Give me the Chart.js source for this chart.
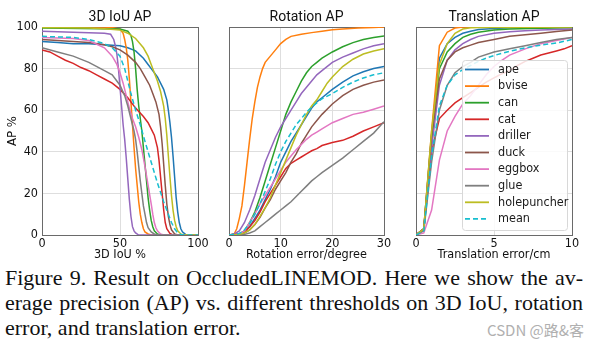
<!DOCTYPE html>
<html>
<head>
<meta charset="utf-8">
<script src="https://cdn.jsdelivr.net/npm/chart.js@4.4.1/dist/chart.umd.min.js"></script>
<style>
  body { margin: 0; background: #fff; width: 599px; height: 353px; overflow: hidden; position: relative; }
  canvas { position: absolute; top: 0; }
  #caption { position: absolute; left: 5px; top: 265px; width: 578px; font-family: "Liberation Serif", serif; font-size: 22px; line-height: 25px; color: #111; }
  #caption div { text-align: justify; text-align-last: justify; }
  #caption div.last { text-align-last: left; }
  #mark { position: absolute; right: 15px; top: 319px; font-family: "Noto Sans CJK SC", sans-serif; font-size: 15px; color: #b0b0b0; }
</style>
</head>
<body>
<canvas id="iou" width="210" height="265" style="left:0px"></canvas>
<canvas id="rot" width="185" height="265" style="left:210px"></canvas>
<canvas id="trans" width="199" height="265" style="left:400px"></canvas>
<div id="caption">
  <div>Figure 9. Result on OccludedLINEMOD. Here we show the av-</div>
  <div>erage precision (AP) vs. different thresholds on 3D IoU, rotation</div>
  <div class="last">error, and translation error.</div>
</div>
<div id="mark">CSDN @路&amp;客</div>
<script>
const names = ['ape', 'bvise', 'can', 'cat', 'driller', 'duck', 'eggbox', 'glue', 'holepuncher', 'mean'];
const colors = ['#1f77b4', '#ff7f0e', '#2ca02c', '#d62728', '#9467bd', '#8c564b', '#e377c2', '#7f7f7f', '#bcbd22', '#17becf'];

// 3D IoU AP: [iou %, AP %]
const iouApe = [[0,93],[10,92.5],[20,92],[30,92],[40,91.5],[50,91],[55,90],[60,88.5],[65,85],[68,82],[70,80],[72,78],[74,76],[76,73],[78,70],[80,65],[81,60],[82,54],[83,47],[84,38],[85,28],[86,18],[87,11],[88,6],[89,3],[90,1.5],[92,0.3],[94,0],[100,0]];
const iouBvise = [[0,100],[40,100],[45,99.7],[50,99],[52,97],[53,94],[54,90],[55,84],[56,75],[57,64],[58,53],[59,42],[60,32],[61,24],[62,16],[63,10],[64,6],[65,3],[66,1.5],[68,0.5],[70,0],[100,0]];
const iouCan = [[0,99.5],[50,99],[55,98],[57,96],[58,93],[59,88],[60,80],[61,70],[62,62],[63,56],[64,50],[65,42],[66,34],[67,26],[68,18],[69,12],[70,7],[71,4],[72,2],[74,0.5],[76,0],[100,0]];
const iouCat = [[0,89],[5,88],[10,86],[15,84],[20,82.5],[25,80.5],[30,79],[35,77],[40,75],[45,73],[50,70],[55,66],[60,61],[65,57],[68,54],[70,51],[72,48],[74,42],[75,36],[76,28],[77,20],[78,12],[79,6],[80,3],[82,0.8],[84,0],[100,0]];
const iouDriller = [[0,98],[20,97.5],[40,97],[44,96.5],[46,94],[47,91],[48,87],[49,80],[50,71],[51,62],[52,53],[53,46],[54,37],[55,27],[56,17],[57,9],[58,4],[59,2],[60,1],[62,0],[100,0]];
const iouDuck = [[0,94],[10,93.5],[20,93],[30,92.5],[40,91.5],[45,90.5],[50,89],[55,86.5],[60,83],[63,80],[66,76],[69,72],[71,68],[73,64],[75,58],[76,52],[77,44],[78,34],[79,24],[80,15],[81,9],[82,5],[83,2.5],[85,0.5],[87,0],[100,0]];
const iouEggbox = [[0,95],[20,94.5],[30,93.5],[40,90],[45,86],[48,82],[50,78],[52,73],[54,67],[56,61],[58,56],[60,52],[62,47],[64,41],[66,33],[68,24],[70,15],[71,10],[72,6],[73,3.5],[74,2],[76,0.5],[78,0],[100,0]];
const iouGlue = [[0,90],[10,88],[20,86],[30,83],[40,79],[45,77],[50,72],[53,67],[55,62],[57,56],[59,50],[60,46],[61,40],[62,33],[63,26],[64,20],[65,14],[66,10],[67,6],[68,3.5],[70,1.5],[72,0.5],[74,0],[100,0]];
const iouHole = [[0,99.8],[30,99.5],[40,99.2],[50,98.5],[55,97],[60,94.5],[65,90],[68,86],[70,82],[72,78],[74,74],[76,69],[78,62],[79,56],[80,48],[81,38],[82,28],[83,19],[84,12],[85,7],[86,4],[87,2],[89,0.5],[91,0],[100,0]];
const iouMean = [[0,95.5],[20,95],[30,94],[40,92],[45,90],[50,86],[53,80],[55,74],[57,68],[60,60],[63,53],[66,45],[70,35],[74,25],[78,16],[81,10],[83,6],[85,3],[87,1],[89,0.3],[91,0],[100,0]];

// Rotation AP: [error deg, AP %]
const rotApe = [[0,0],[2,0.5],[3,2],[4,4],[5,8],[6,12],[7,17],[8,22],[9,28],[10,35],[11,40],[12,45],[13,49],[14,53],[15,57],[16,61],[17,64],[18,66],[20,70],[22,73.5],[24,76.5],[26,78.5],[28,80],[30,81]];
const rotBvise = [[0,0],[1,0.5],[1.5,3],[2,8],[2.5,14],[3,24],[3.5,35],[4,46],[4.5,56],[5,64],[5.5,71],[6,76],[6.5,80],[7,83],[8,86],[9,89],[10,92],[11,94],[12,95.5],[14,96.5],[16,97.3],[18,98],[20,98.7],[22,99],[25,99.5],[28,99.8],[30,100]];
const rotCan = [[0,0],[2,0.5],[3,2],[4,6],[5,11],[6,18],[7,26],[8,34],[9,42],[10,50],[11,58],[12,64],[13,69],[14,74],[15,78],[16,81],[17,83],[18,85],[20,88],[22,90.5],[24,92.5],[26,94],[28,95],[30,95.7]];
const rotCat = [[0,0],[2,0.5],[3,1.5],[4,4],[5,7],[6,11],[7,16],[8,20],[9,24],[10,28],[11,32],[12,34.5],[13,36],[14,37.5],[15,39],[16,40.5],[17,41.5],[18,43],[20,44.5],[22,45.5],[24,47.5],[26,50],[28,52],[30,54]];
const rotDriller = [[0,0],[1,0.5],[2,2],[3,6],[4,12],[5,19],[6,27],[7,35],[8,41],[9,47],[10,52],[11,56],[12,60],[13,64],[14,68],[15,71],[16,74],[17,77],[18,79],[20,83],[22,85.5],[24,87.5],[26,89.5],[28,91],[30,92]];
const rotDuck = [[0,0],[3,1],[4,2.5],[5,5],[6,8.5],[7,13],[8,17],[9,22],[10,26],[11,30],[12,35],[13,39],[14,44],[15,48],[16,52],[17,55],[18,58],[20,63],[22,67],[24,70],[26,72],[28,73.5],[30,74.5]];
const rotEggbox = [[0,0],[2,0.5],[3,2],[4,6],[5,10],[6,15],[7,19],[8,23],[9,27],[10,31],[11,35],[12,38],[13,41],[14,43.5],[15,46],[16,48],[17,49.5],[18,51],[20,54],[22,56],[24,58],[26,59],[28,60.5],[30,62]];
const rotGlue = [[0,0],[3,0.3],[4,1],[5,2],[6,4],[7,6],[8,8],[9,10],[10,12],[11,14],[12,16],[13,18.5],[14,21],[15,23.5],[16,26],[17,28],[18,30],[20,33.5],[22,37],[24,41],[26,45],[28,49],[30,54.5]];
const rotHole = [[0,0],[2,0.3],[3,1],[4,2.5],[5,5],[6,9],[7,13],[8,18],[9,24],[10,30],[11,36],[12,42],[13,48],[14,53],[15,58],[16,62],[17,65],[18,69],[19,73],[20,76],[22,81],[24,84.5],[26,87],[28,88.5],[30,89.6]];
const rotMean = [[0,0],[2,0.7],[3,2.5],[4,5.5],[5,10],[6,15],[7,21],[8,27],[9,34],[10,40],[11,45],[12,49],[13,53],[14,56],[15,59],[16,61.5],[17,63.5],[18,65.5],[20,68],[22,71],[24,73.5],[26,75.5],[28,77],[30,78]];

// Translation AP: [error cm, AP %]
const trApe = [[0,0],[0.5,3],[1,48],[1.5,85],[2,92],[2.5,95],[3,97],[3.5,98],[4,98.8],[5,99.3],[6,99.6],[8,99.8],[10,100]];
const trBvise = [[0,0],[0.5,3],[1,50],[1.5,91],[2,97.5],[2.5,99.5],[3,100],[10,100]];
const trCan = [[0,0],[0.5,2.5],[1,45],[1.5,80],[2,88],[2.5,92],[3,95],[3.5,96.5],[4,97.5],[5,98.5],[6,99],[8,99.4],[10,99.6]];
const trCat = [[0,0],[0.5,3],[1,40],[1.5,56],[2,60],[2.5,63.5],[3,66],[3.5,68.5],[4,71],[4.5,73.5],[5,75.5],[5.5,77.5],[6,79],[6.5,81.5],[7,83.5],[7.5,85],[8,86.5],[8.5,87.5],[9,88.5],[9.5,89.5],[10,91]];
const trDriller = [[0,0],[0.5,3],[1,42],[1.5,72],[2,84],[2.5,89],[3,92],[3.5,94],[4,95.5],[5,97],[6,97.7],[7,98.2],[8,98.5],[10,99]];
const trDuck = [[0,0],[0.5,3],[1,48],[1.5,75],[2,84],[2.5,88],[3,90],[3.5,91.3],[4,92.5],[5,94],[6,95.5],[7,96.3],[8,97],[9,97.8],[10,98.5]];
const trEggbox = [[0,0],[0.5,1],[1,12],[1.5,36],[2,50],[2.5,57],[3,63],[3.5,67],[4,72],[4.5,77],[5,81],[5.5,84],[6,86.5],[7,89.5],[8,92],[9,93.5],[10,95]];
const trGlue = [[0,0],[0.5,2],[1,35],[1.5,60],[2,72],[2.5,78],[3,81],[3.5,83],[4,85.5],[5,88],[6,89.5],[7,91],[8,92.5],[9,94],[10,95]];
const trHole = [[0,0],[0.5,3],[1,50],[1.5,82],[2,92],[2.5,97],[3,99],[3.5,99.6],[4,99.8],[10,100]];
const trMean = [[0,0],[0.5,2],[1,38],[1.5,62],[2,72],[2.5,77],[3,79.5],[3.5,81.5],[4,83.5],[4.5,85],[5,86.3],[6,88.3],[7,90],[8,91.3],[9,92.3],[10,94]];

const yTicks = [0, 20, 40, 60, 80, 100];

const narrow = "'Liberation Sans Narrow', 'DejaVu Sans Condensed', Roboto, sans-serif";
const tickFont = { family: narrow, size: 12.5 };
const frameColor = '#6a6a6a';
const gridColor = '#dedede';

// legend drawn inside the plot area of the translation chart
const insideLegend = {
  id: 'insideLegend',
  afterDraw(chart, args, opts) {
    if (!opts.show) return;
    const { ctx, chartArea: a } = chart;
    const bx = a.left + 46, by = a.top + 33, bw = 105, bh = 170;
    ctx.save();
    ctx.fillStyle = 'rgba(255,255,255,0.85)';
    ctx.strokeStyle = '#d8d8d8';
    ctx.lineWidth = 1;
    ctx.beginPath();
    ctx.roundRect(bx + 0.5, by + 0.5, bw, bh, 3);
    ctx.fill();
    ctx.stroke();
    ctx.font = '12.5px ' + narrow;
    ctx.textBaseline = 'middle';
    chart.data.datasets.forEach((ds, i) => {
      const y = by + 9.5 + i * 16.6;
      ctx.strokeStyle = ds.borderColor;
      ctx.lineWidth = 1.8;
      ctx.setLineDash(ds.borderDash || []);
      ctx.beginPath();
      ctx.moveTo(bx + 3, y);
      ctx.lineTo(bx + 27, y);
      ctx.stroke();
      ctx.setLineDash([]);
      ctx.fillStyle = '#1a1a1a';
      ctx.fillText(ds.label, bx + 36, y);
    });
    ctx.restore();
  }
};

function makeChart(id, series, opt) {
  const datasets = names.map((n, i) => ({
    label: n,
    data: series[i].map(p => ({ x: p[0], y: p[1] })),
    borderColor: colors[i],
    borderWidth: 1.5,
    borderDash: n === 'mean' ? [5, 3] : [],
    pointRadius: 0,
    tension: 0,
    order: names.length - i
  }));
  new Chart(document.getElementById(id), {
    type: 'line',
    data: { datasets },
    plugins: [insideLegend],
    options: {
      responsive: false,
      animation: false,
      layout: { padding: { left: 0, right: opt.padRight, top: 0, bottom: 0 } },
      plugins: {
        legend: { display: false },
        tooltip: { enabled: false },
        insideLegend: { show: !!opt.legend }
      },
      scales: {
        x: {
          type: 'linear', min: opt.xMin, max: opt.xMax,
          ticks: { stepSize: opt.xStep, font: tickFont, color: '#111', padding: 1, maxRotation: 0, autoSkip: false },
          grid: { color: gridColor, drawTicks: false },
          border: { color: frameColor },
          title: { display: true, text: opt.xTitle, font: { family: narrow, size: 12.5 }, color: '#111', padding: { top: 0, bottom: 2.4 } },
          afterFit(s) { s.height = 30; s.paddingLeft = 0; s.paddingRight = 0; }
        },
        top: {
          type: 'linear', position: 'top', min: opt.xMin, max: opt.xMax,
          ticks: { display: false },
          grid: { display: false, drawTicks: false },
          border: { color: frameColor },
          title: { display: true, text: opt.title, font: { family: 'Roboto', size: 14 }, color: '#111', padding: { top: 8.6, bottom: 0 } },
          afterFit(s) { s.height = 27; s.paddingLeft = 0; s.paddingRight = 0; }
        },
        y: {
          type: 'linear', min: 0, max: 100,
          afterBuildTicks(s) { s.ticks = yTicks.map(v => ({ value: v })); },
          ticks: { display: !!opt.yLabels, font: tickFont, color: '#111', padding: 4 },
          grid: { color: gridColor, drawTicks: false },
          border: { color: frameColor },
          title: { display: !!opt.yLabels, text: 'AP %', font: { family: narrow, size: 13 }, color: '#111', padding: { top: 4.5, bottom: 0 } },
          afterFit(s) { s.width = opt.yWidth; }
        },
        right: {
          type: 'linear', position: 'right', min: 0, max: 100,
          ticks: { display: false },
          grid: { display: false, drawTicks: false },
          border: { color: frameColor },
          afterFit(s) { s.width = 0; }
        }
      }
    }
  });
}

makeChart('iou',
  [iouApe, iouBvise, iouCan, iouCat, iouDriller, iouDuck, iouEggbox, iouGlue, iouHole, iouMean],
  { title: '3D IoU AP', xTitle: '3D IoU %', xMin: 0, xMax: 100, xStep: 50, yWidth: 42, padRight: 12, yLabels: true });

makeChart('rot',
  [rotApe, rotBvise, rotCan, rotCat, rotDriller, rotDuck, rotEggbox, rotGlue, rotHole, rotMean],
  { title: 'Rotation AP', xTitle: 'Rotation error/degree', xMin: 0, xMax: 30, xStep: 10, yWidth: 19, padRight: 11 });

makeChart('trans',
  [trApe, trBvise, trCan, trCat, trDriller, trDuck, trEggbox, trGlue, trHole, trMean],
  { title: 'Translation AP', xTitle: 'Translation error/cm', xMin: 0, xMax: 10, xStep: 5, yWidth: 16, padRight: 27, legend: true });
</script>
</body>
</html>
